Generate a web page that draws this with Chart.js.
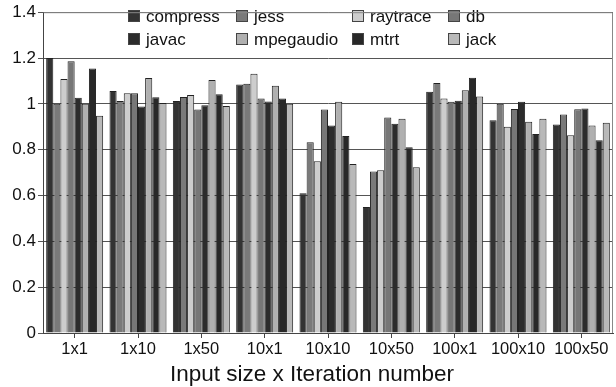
<!DOCTYPE html>
<html>
<head>
<meta charset="utf-8">
<script src="https://cdn.jsdelivr.net/npm/chart.js@4/dist/chart.umd.min.js"></script>
<style>
  html, body { margin: 0; padding: 0; background: #fff; }
  #wrap { width: 616px; height: 387px; }
</style>
</head>
<body>
<div id="wrap"><canvas id="chart"></canvas></div>
<script>
const categories = ["1x1", "1x10", "1x50", "10x1", "10x10", "10x50", "100x1", "100x10", "100x50"];
const benchmarks = ["compress", "jess", "raytrace", "db", "javac", "mpegaudio", "mtrt", "jack"];
const colors = ["#333333", "#7a7a7a", "#cdcdcd", "#777777", "#2c2c2c", "#b0b0b0", "#282828", "#b9b9b9"];
const xTitle = "Input size x Iteration number";

const compress = [1.20, 1.056, 1.013, 1.085, 0.610, 0.550, 1.053, 0.928, 0.910];
const jess = [1.00, 1.013, 1.030, 1.088, 0.832, 0.705, 1.091, 1.00, 0.954];
const raytrace = [1.108, 1.046, 1.039, 1.131, 0.749, 0.710, 1.023, 0.900, 0.863];
const db = [1.186, 1.046, 0.975, 1.023, 0.975, 0.941, 1.009, 0.978, 0.977];
const javac = [1.027, 0.988, 0.994, 1.010, 0.906, 0.913, 1.014, 1.009, 0.980];
const mpegaudio = [1.00, 1.113, 1.104, 1.079, 1.009, 0.935, 1.059, 0.922, 0.906];
const mtrt = [1.154, 1.029, 1.042, 1.023, 0.860, 0.811, 1.114, 0.868, 0.841];
const jack = [0.948, 1.004, 0.991, 1.00, 0.737, 0.723, 1.032, 0.935, 0.918];

const series = [compress, jess, raytrace, db, javac, mpegaudio, mtrt, jack];

const FONT = "'Liberation Sans', Arial, sans-serif";

// legend drawn as a 4x2 grid inside the plot area
const gridLegend = {
  id: "gridLegend",
  afterDatasetsDraw(chart) {
    const ctx = chart.ctx;
    const colX = [128, 236, 352, 448];
    const rowY = [16, 39];
    ctx.save();
    ctx.font = "17px " + FONT;
    ctx.textBaseline = "middle";
    chart.data.datasets.forEach((ds, i) => {
      const x = colX[i % 4];
      const y = rowY[Math.floor(i / 4)];
      ctx.fillStyle = ds.backgroundColor;
      ctx.strokeStyle = "#444";
      ctx.lineWidth = 1;
      ctx.fillRect(x, y - 6, 12, 12);
      ctx.strokeRect(x + 0.5, y - 5.5, 11, 11);
      ctx.fillStyle = "#111";
      ctx.fillText(ds.label, x + 18, y + 1);
    });
    ctx.restore();
  },
};

// gray frame round the plot, plus the x axis title (centred on the page, not the plot)
const frame = {
  id: "frame",
  afterDraw(chart) {
    const a = chart.chartArea;
    const ctx = chart.ctx;
    ctx.save();
    ctx.strokeStyle = "#888";
    ctx.lineWidth = 1;
    ctx.beginPath();
    ctx.moveTo(a.left + 0.5, a.top + 0.5);
    ctx.lineTo(a.right - 0.5, a.top + 0.5);
    ctx.lineTo(a.right - 0.5, a.bottom);
    ctx.stroke();

    ctx.font = "22.5px " + FONT;
    ctx.fillStyle = "#111";
    ctx.textAlign = "center";
    ctx.textBaseline = "middle";
    ctx.fillText(xTitle, 312, 375);
    ctx.restore();
  },
};

new Chart(document.getElementById("chart"), {
  type: "bar",
  data: {
    labels: categories,
    datasets: benchmarks.map((name, i) => ({
      label: name,
      data: series[i],
      backgroundColor: colors[i],
      borderColor: "#222",
      borderWidth: 1,
      categoryPercentage: 0.9,
      barPercentage: 1.0,
    })),
  },
  options: {
    responsive: true,
    maintainAspectRatio: false,
    animation: false,
    layout: { padding: { left: 0, right: 3, top: 10, bottom: 0 } },
    plugins: {
      legend: { display: false },
      tooltip: { enabled: false },
    },
    scales: {
      x: {
        grid: {
          offset: false,
          drawOnChartArea: false,
          color: "#444",
          tickLength: 5,
        },
        border: { color: "#444" },
        ticks: {
          color: "#111",
          font: { family: FONT, size: 16.5 },
          padding: 2,
          maxRotation: 0,
        },
        afterFit(scale) {
          scale.height = 54;
        },
      },
      y: {
        min: 0,
        max: 1.4,
        ticks: {
          stepSize: 0.2,
          color: "#111",
          font: { family: FONT, size: 17 },
          padding: 2,
          callback: (v) => Math.round(v * 10) / 10,
        },
        grid: {
          color: "#555",
          tickLength: 5,
        },
        border: { color: "#444" },
        afterFit(scale) {
          scale.width = 43;
        },
      },
    },
  },
  plugins: [gridLegend, frame],
});
</script>
</body>
</html>
